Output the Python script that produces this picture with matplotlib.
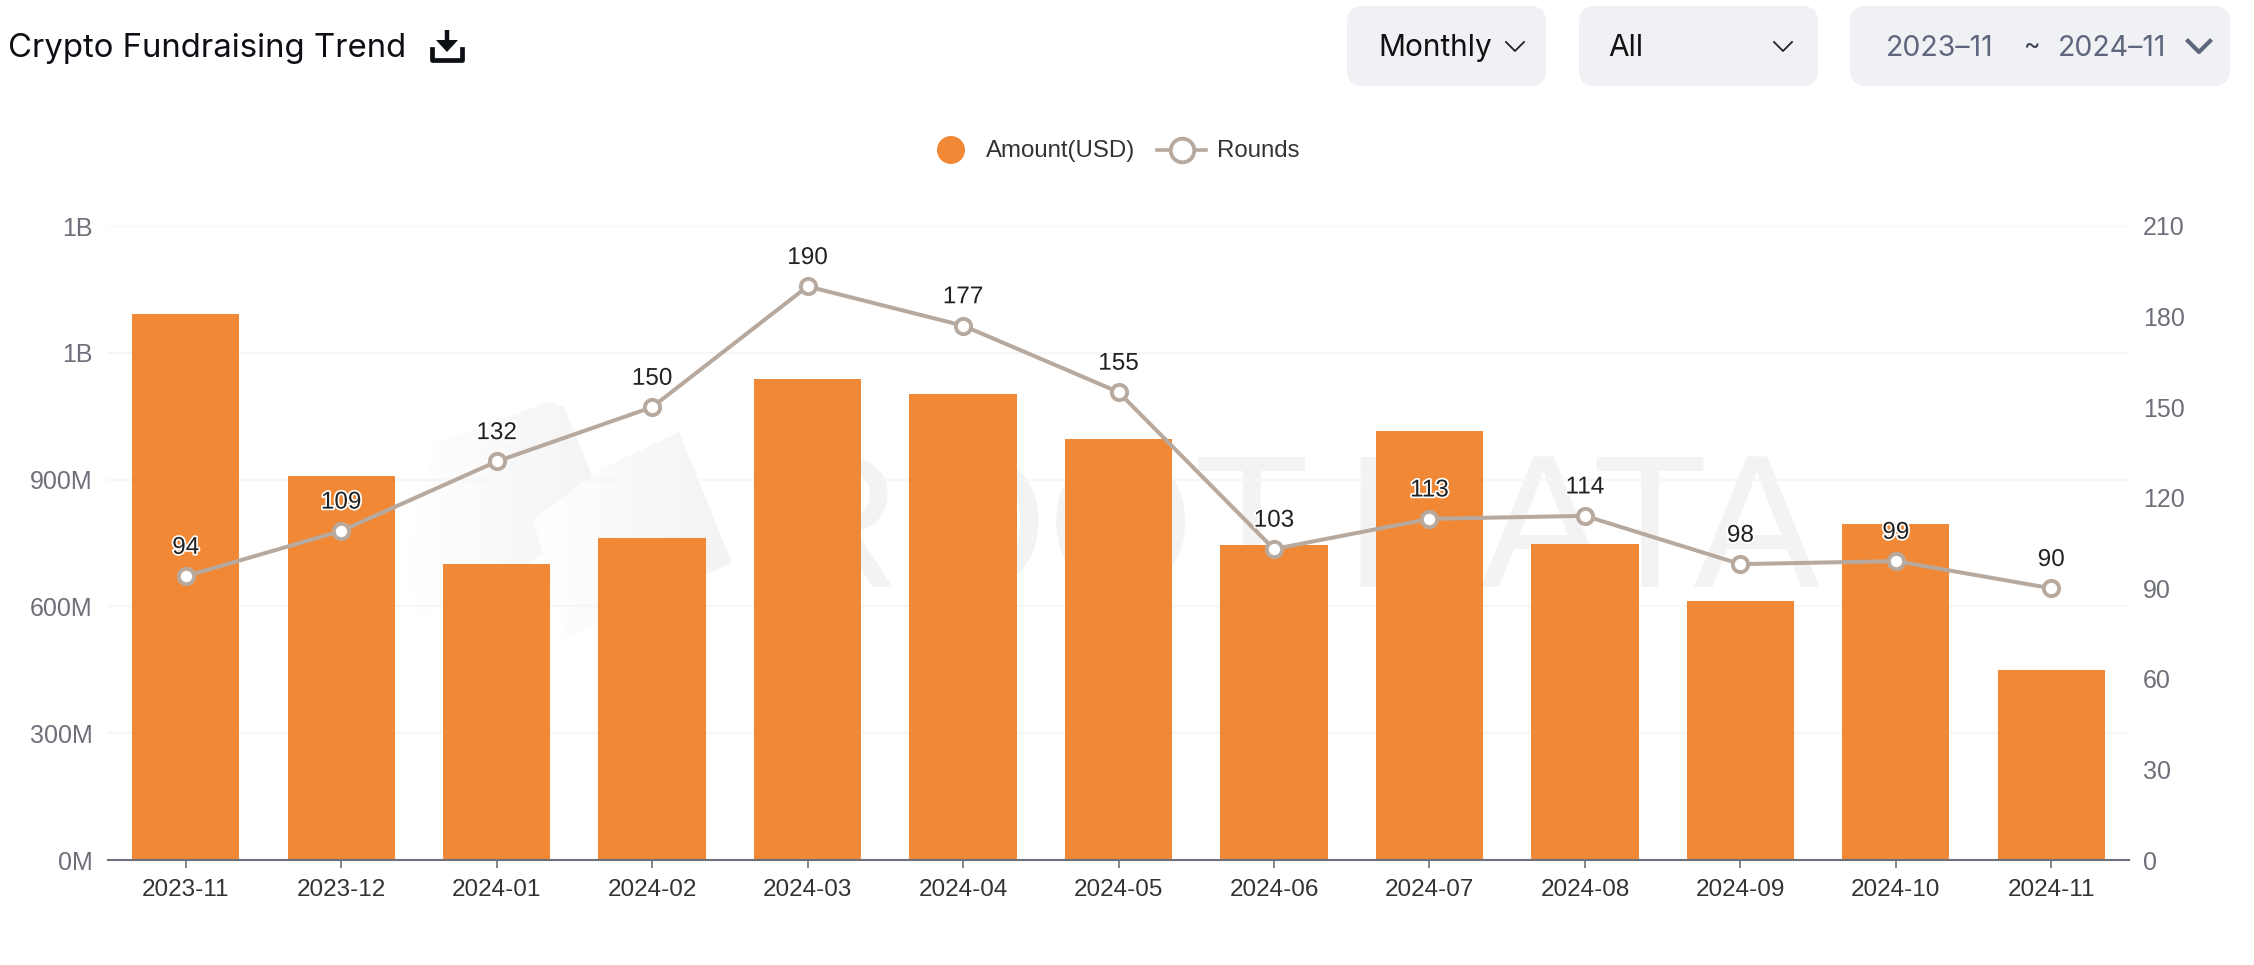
import matplotlib
matplotlib.use("Agg")
import matplotlib.pyplot as plt
import matplotlib.patheffects as pe
import numpy as np
from matplotlib.patches import FancyBboxPatch, Polygon, Circle
from matplotlib.transforms import Affine2D

W, H = 2254, 965

months = ['2023-11', '2023-12', '2024-01', '2024-02', '2024-03', '2024-04', '2024-05',
          '2024-06', '2024-07', '2024-08', '2024-09', '2024-10', '2024-11']
amount = [1292e6, 908e6, 700e6, 762e6, 1139e6, 1102e6, 997e6,
          745e6, 1014e6, 748e6, 612e6, 796e6, 449e6]
rounds = [94, 109, 132, 150, 190, 177, 155, 103, 113, 114, 98, 99, 90]
left_ticks = [0, 300e6, 600e6, 900e6, 1200e6, 1500e6]
left_labels = ['0M', '300M', '600M', '900M', '1B', '1B']
right_ticks = [0, 30, 60, 90, 120, 150, 180, 210]

plt.rcParams['font.family'] = ['Liberation Sans', 'DejaVu Sans']

ORANGE = '#f08835'
LINE = '#b8a99e'
GREY = '#6e7079'
WM = '#f3f3f3'

fig = plt.figure(figsize=(W / 100, H / 100), dpi=100, facecolor='white')
# pixel coords, y going down, same as the screenshot
px = Affine2D().scale(1, -1).translate(0, H)

ax = fig.add_axes([108 / W, 1 - 860 / H, (2129 - 108) / W, (860 - 226) / H])
ax.patch.set_visible(False)


def logo_piece(points):
    # grey shape that fades out to white on its left side
    xs_p = [p[0] for p in points]
    ys_p = [p[1] for p in points]
    x0, x1, y0, y1 = min(xs_p), max(xs_p), min(ys_p), max(ys_p)
    ramp = np.linspace(255, 243, 64).reshape(1, -1, 1).repeat(3, axis=2).astype(np.uint8)
    im = ax.imshow(ramp, extent=(x0, x1, y1, y0), aspect='auto', zorder=0.2, interpolation='bilinear')
    im.set_transform(px)
    shape = Polygon(points, transform=px, facecolor='none', edgecolor='none')
    ax.add_patch(shape)
    im.set_clip_path(shape)


logo_piece([(403, 571), (434, 444), (548, 402), (564, 407), (617, 536), (551, 551), (423, 615)])
logo_piece([(533, 520), (597, 471), (679, 432), (732, 563), (566, 637), (556, 600)])
# the watermark is letter spaced wider in its second half
ax.text(765, 587, 'ROOT', transform=px, fontsize=136, color=WM, ha='left', va='baseline', zorder=0.3)
ax.text(1345, 587, 'DATA', transform=px, fontsize=136, color=WM, ha='left', va='baseline', zorder=0.3)

xs = list(range(len(months)))
ax.bar(xs, amount, width=0.69, color=ORANGE, zorder=2)
ax.set_xlim(-0.5, 12.5)
ax.set_ylim(0, 1500e6)
ax.set_xticks(xs)
ax.set_xticklabels(months, fontsize=17.5, color='#333333')
ax.set_yticks(left_ticks)
ax.set_yticklabels(left_labels, fontsize=18, color=GREY)
ax.tick_params(axis='x', length=6, width=1.2, color=GREY, pad=8)
ax.tick_params(axis='y', length=0, pad=11)
ax.set_axisbelow(True)
ax.grid(axis='y', color='#f6f6f6', lw=1.5)
for s in ['top', 'left', 'right']:
    ax.spines[s].set_visible(False)
ax.spines['bottom'].set_color(GREY)
ax.spines['bottom'].set_linewidth(1.5)
ax.spines['bottom'].set_zorder(3)

ax2 = ax.twinx()
ax2.patch.set_visible(False)
ax2.plot(xs, rounds, color=LINE, lw=2.9, marker='o', markersize=11, markerfacecolor='white',
         markeredgecolor=LINE, markeredgewidth=2.8, zorder=3, clip_on=False)
ax2.set_ylim(0, 210)
ax2.set_yticks(right_ticks)
ax2.set_yticklabels([str(t) for t in right_ticks], fontsize=18, color=GREY)
ax2.tick_params(axis='y', length=0, pad=10)
for s in ax2.spines.values():
    s.set_visible(False)
for x, r in zip(xs, rounds):
    ax2.annotate(str(r), (x, r), xytext=(0, 12.5), textcoords='offset points', ha='center', va='bottom',
                 fontsize=17.5, color='#222222', zorder=4,
                 path_effects=[pe.withStroke(linewidth=2.5, foreground='white')])

# page chrome above the chart
ui = fig.add_axes([0, 0, 1, 1], facecolor='none')
ui.set_xlim(0, W)
ui.set_ylim(H, 0)
ui.axis('off')

ui.text(8, 48, 'Crypto Fundraising Trend', fontsize=23.7, family='Inter', color='#0c0f14', va='center')

# download icon
ui.plot([447, 447], [30, 47], color='#0c0f14', lw=3.2, solid_capstyle='butt')
ui.add_patch(Polygon([(436, 40), (458, 40), (447, 52)], facecolor='#0c0f14', edgecolor='none'))
ui.plot([432, 432, 462, 462], [49, 60, 60, 49], color='#0c0f14', lw=3.4, solid_joinstyle='round')

for x0, x1 in [(1347, 1546), (1579, 1818), (1850, 2230)]:
    ui.add_patch(FancyBboxPatch((x0, 6), x1 - x0, 80, boxstyle='round,pad=0,rounding_size=16',
                                facecolor='#f0f1f5', edgecolor='none'))

ui.text(1378, 48, 'Monthly', fontsize=21.5, family='Inter', color='#111111', va='center')
ui.text(1608, 48, 'All', fontsize=21.5, family='Inter', color='#111111', va='center')
ui.plot([1506, 1515, 1524], [42, 51, 42], color='#222222', lw=1.3)
ui.plot([1774, 1783, 1792], [42, 51, 42], color='#222222', lw=1.3)

ui.text(1886, 48, '2023–11', fontsize=20.5, family='Inter', color='#5d667c', va='center')
ui.text(2024, 47, '~', fontsize=18, family='Inter', color='#333a4a', va='center')
ui.text(2058, 48, '2024–11', fontsize=20.5, family='Inter', color='#5d667c', va='center')
ui.plot([2188, 2199, 2210], [41, 52, 41], color='#5d667c', lw=3)

# legend
ui.add_patch(Circle((951, 150), 14, facecolor=ORANGE, edgecolor='none'))
ui.text(986, 151, 'Amount(USD)', fontsize=17.3, color='#333333', va='center')
ui.plot([1157, 1206], [150, 150], color=LINE, lw=2.6)
ui.plot([1182], [150], marker='o', markersize=17, markerfacecolor='white', markeredgecolor=LINE, markeredgewidth=2.8)
ui.text(1217, 151, 'Rounds', fontsize=17.3, color='#333333', va='center')

fig.savefig('out.png', dpi=100)
